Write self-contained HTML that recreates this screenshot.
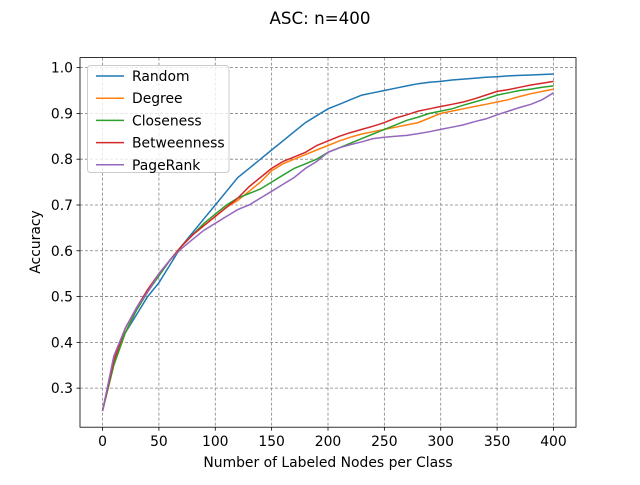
<!DOCTYPE html>
<html><head><meta charset="utf-8"><style>
body{margin:0;background:#fff}
svg{font-family:"DejaVu Sans","Liberation Sans",sans-serif}
</style></head><body>
<svg id="chart" width="640" height="480">
<rect x="0" y="0" width="640" height="480" fill="#fff"/>
<text x="320" y="24" text-anchor="middle" font-size="16.7">ASC: n=400</text>
<g id="grid"></g>
<g id="series"></g>
<rect x="80" y="57.6" width="496" height="369.6" fill="none" stroke="#000" stroke-width="0.8"/>
<g id="ticks"></g>
<text x="328" y="467" text-anchor="middle" font-size="13.9">Number of Labeled Nodes per Class</text>
<text transform="translate(40,242) rotate(-90)" text-anchor="middle" font-size="13.9">Accuracy</text>
<g id="legend"></g>
</svg>
<script>
const xs=[0,10,20,30,40,50,60,70,80,90,100,110,120,130,140,150,160,170,180,190,200,210,220,230,240,250,260,270,280,290,300,310,320,330,340,350,360,370,380,390,400];
const seriesNames=["Random","Degree","Closeness","Betweenness","PageRank"];
const randomVals=[0.25,0.36,0.42,0.46,0.50,0.53,0.57,0.61,0.64,0.67,0.70,0.73,0.76,0.78,0.80,0.82,0.84,0.86,0.88,0.895,0.91,0.92,0.93,0.94,0.945,0.95,0.955,0.96,0.965,0.968,0.97,0.973,0.975,0.977,0.979,0.98,0.982,0.983,0.984,0.985,0.986];
const degreeVals=[0.25,0.35,0.42,0.47,0.51,0.55,0.58,0.61,0.635,0.655,0.675,0.695,0.71,0.73,0.75,0.775,0.79,0.80,0.81,0.82,0.83,0.84,0.848,0.855,0.86,0.865,0.87,0.875,0.88,0.89,0.90,0.905,0.91,0.915,0.92,0.925,0.93,0.937,0.943,0.948,0.953];
const closenessVals=[0.25,0.35,0.42,0.47,0.51,0.545,0.58,0.61,0.635,0.66,0.68,0.70,0.715,0.725,0.735,0.75,0.765,0.78,0.79,0.80,0.815,0.825,0.835,0.845,0.855,0.865,0.875,0.885,0.892,0.90,0.905,0.91,0.918,0.925,0.932,0.94,0.945,0.95,0.953,0.957,0.96];
const betweennessVals=[0.25,0.36,0.43,0.475,0.515,0.55,0.58,0.61,0.635,0.655,0.675,0.695,0.715,0.74,0.76,0.78,0.795,0.805,0.815,0.83,0.84,0.85,0.858,0.865,0.872,0.88,0.89,0.897,0.905,0.91,0.915,0.92,0.925,0.932,0.94,0.948,0.952,0.957,0.962,0.966,0.97];
const pagerankVals=[0.25,0.37,0.43,0.475,0.51,0.55,0.58,0.605,0.625,0.645,0.66,0.675,0.69,0.70,0.715,0.73,0.745,0.76,0.78,0.795,0.815,0.825,0.832,0.838,0.845,0.848,0.85,0.852,0.856,0.86,0.865,0.87,0.875,0.882,0.888,0.897,0.905,0.913,0.92,0.93,0.945];
const xTicks=[0,50,100,150,200,250,300,350,400];
const yTicks=[0.3,0.4,0.5,0.6,0.7,0.8,0.9,1.0];
const colors=["#1f77b4","#ff7f0e","#2ca02c","#d62728","#9467bd"];
const allVals=[randomVals,degreeVals,closenessVals,betweennessVals,pagerankVals];
const NS="http://www.w3.org/2000/svg";
const X=v=>80+(v+20)/440*496;
const Y=v=>427.2-(v-0.2147)/(1.0219-0.2147)*369.6;
function mk(tag,attrs,parent){const e=document.createElementNS(NS,tag);for(const k in attrs)e.setAttribute(k,attrs[k]);parent.appendChild(e);return e;}
const grid=document.getElementById('grid'),ticks=document.getElementById('ticks'),ser=document.getElementById('series'),leg=document.getElementById('legend');
xTicks.forEach(t=>{
 const x=X(t);
 const g=mk('line',{x1:x,x2:x,y1:57.6,y2:427.2,stroke:'#808080','stroke-dasharray':'3,2','stroke-width':0.8},grid);
 
 
 const tk=mk('line',{x1:x,x2:x,y1:427.2,y2:430.7,stroke:'#000','stroke-width':0.8},ticks);
 
 
 const tl=mk('text',{x:x,y:446,'text-anchor':'middle','font-size':13.9},ticks);tl.textContent=t;
 
 
});
yTicks.forEach(t=>{
 const y=Y(t);
 const g=mk('line',{x1:80,x2:576,y1:y,y2:y,stroke:'#808080','stroke-dasharray':'3,2','stroke-width':0.8},grid);
 
 
 const tk=mk('line',{x1:76.5,x2:80,y1:y,y2:y,stroke:'#000','stroke-width':0.8},ticks);
 
 
 const tl=mk('text',{x:73,y:y+5,'text-anchor':'end','font-size':13.9},ticks);tl.textContent=t.toFixed(1);
 
 
});
allVals.forEach((vals,i)=>{
 const d=vals.map((v,j)=>(j?'L':'M')+X(xs[j]).toFixed(1)+','+Y(v).toFixed(1)).join('');
 const p=mk('path',{d:d,fill:'none',stroke:colors[i],'stroke-width':1.5},ser);
 
 
});
const box=mk('rect',{x:87.5,y:65.5,width:141.5,height:107,rx:3,fill:'#fff','fill-opacity':0.8,stroke:'#ccc'},leg);


seriesNames.forEach((n,i)=>{
 const y=76+i*22.2;
 const l=mk('line',{x1:96,x2:124,y1:y,y2:y,stroke:colors[i],'stroke-width':1.5},leg);
 
 
 const t=mk('text',{x:132,y:y+5,'font-size':13.9},leg);t.textContent=n;
 
 
});
</script>
</body></html>
